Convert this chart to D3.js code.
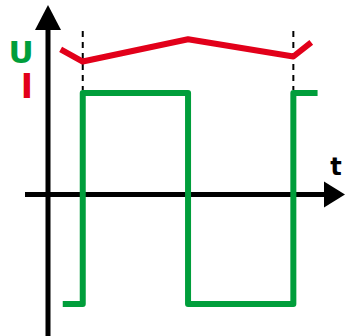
<!DOCTYPE html>
<html>
<head>
<meta charset="utf-8">
<script src="https://cdn.jsdelivr.net/npm/d3@7"></script>
<style>
  body { margin: 0; background: #fff; }
</style>
</head>
<body>
<div id="chart"></div>
<script>
// square wave U(t): corners of the step line
const uTimes = [0.14, 0.33, 0.33, 1.33, 1.33, 2.33, 2.33, 2.56];
const uValues = [-1.08, -1.08, 1, 1, -1.08, -1.08, 1, 1];

// current I(t): broken line above the wave
const iTimes = [0.12, 0.33, 1.33, 2.33, 2.5];
const iValues = [1.43, 1.31, 1.53, 1.36, 1.50];

// switching instants marked with dashed lines
const markTimes = [0.33, 2.33];

const width = 347,
      height = 336;

const svg = d3.select("#chart")
    .append("svg")
    .attr("width", width)
    .attr("height", height);

let x = d3.scaleLinear()
    .domain([0, 3])
    .range([48, 48 + 3 * 105.3]);

let y = d3.scaleLinear()
    .domain([-1.08, 1])
    .range([304, 93]);

const green = "#009e3b",
      red = "#e2001a";

// axes
svg.append("line") // vertical axis
    .attr("x1", x(0)).attr("x2", x(0))
    .attr("y1", height).attr("y2", 28)
    .attr("stroke", "black").attr("stroke-width", 5);

svg.append("path")
    .attr("d", `M${x(0)},5 L${x(0) - 13},30 L${x(0) + 13},30 Z`)
    .attr("fill", "black");

svg.append("line") // horizontal axis
    .attr("x1", 25).attr("x2", 327)
    .attr("y1", y(0)).attr("y2", y(0))
    .attr("stroke", "black").attr("stroke-width", 5);

svg.append("path")
    .attr("d", `M345,${y(0)} L324,${y(0) - 13} L324,${y(0) + 13} Z`)
    .attr("fill", "black");

// dashed markers
svg.selectAll(".mark")
    .data(markTimes)
    .join("line")
    .attr("class", "mark")
    .attr("x1", d => x(d)).attr("x2", d => x(d))
    .attr("y1", 31).attr("y2", 90)
    .attr("stroke", "black")
    .attr("stroke-width", 2)
    .attr("stroke-dasharray", "6,5");

// square wave
const uLine = d3.line()
    .x((d, i) => x(uTimes[i]))
    .y(d => y(d));

svg.append("path")
    .attr("d", uLine(uValues))
    .attr("fill", "none")
    .attr("stroke", green)
    .attr("stroke-width", 6)
    .attr("stroke-linejoin", "round");

// current
const iLine = d3.line()
    .x((d, i) => x(iTimes[i]))
    .y(d => y(d));

svg.append("path")
    .attr("d", iLine(iValues))
    .attr("fill", "none")
    .attr("stroke", red)
    .attr("stroke-width", 6)
    .attr("stroke-linejoin", "round");

// labels
svg.append("text")
    .attr("x", 21).attr("y", 63)
    .attr("text-anchor", "middle")
    .style("font", "bold 31px 'DejaVu Sans', sans-serif")
    .style("fill", green)
    .text("U");

svg.append("text")
    .attr("x", 27).attr("y", 98)
    .attr("text-anchor", "middle")
    .style("font", "bold 33px 'DejaVu Sans', sans-serif")
    .style("fill", red)
    .text("I");

svg.append("text")
    .attr("x", 336).attr("y", 175)
    .attr("text-anchor", "middle")
    .style("font", "bold 24px 'DejaVu Sans', sans-serif")
    .style("fill", "black")
    .text("t");
</script>
</body>
</html>
